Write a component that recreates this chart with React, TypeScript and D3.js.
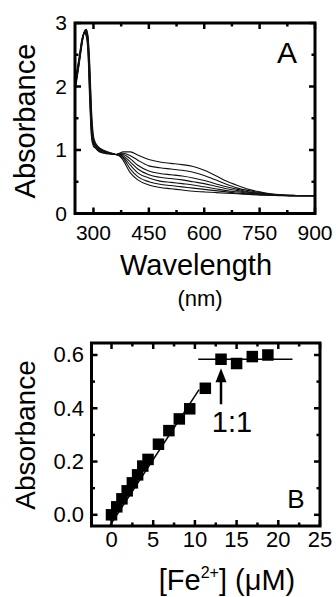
import React from "react";
import * as d3 from "d3";

// ---- panel A: UV-vis spectra ----
const wavelengths = [250, 260, 270, 275, 280, 285, 290, 295, 300, 305, 310, 320, 340, 360, 370,
  380, 400, 420, 450, 480, 510, 540, 570, 600, 630, 660, 690, 720, 750, 780, 810, 840, 870, 900];

const spectra = [
  [1.92, 2.30, 2.70, 2.85, 2.90, 2.80, 2.35, 1.60, 1.22, 1.12, 1.07, 1.02, 0.97, 0.93, 0.91,
    0.84, 0.64, 0.53, 0.45, 0.41, 0.39, 0.37, 0.35, 0.34, 0.33, 0.32, 0.31, 0.30, 0.29, 0.285, 0.28, 0.28, 0.28, 0.28],
  [1.95, 2.32, 2.72, 2.86, 2.90, 2.78, 2.25, 1.50, 1.18, 1.10, 1.06, 1.01, 0.96, 0.93, 0.91,
    0.87, 0.70, 0.58, 0.50, 0.46, 0.44, 0.42, 0.40, 0.38, 0.36, 0.34, 0.32, 0.31, 0.30, 0.29, 0.285, 0.28, 0.28, 0.28],
  [1.98, 2.34, 2.73, 2.85, 2.88, 2.74, 2.15, 1.42, 1.15, 1.08, 1.05, 1.00, 0.96, 0.93, 0.92,
    0.89, 0.76, 0.64, 0.56, 0.51, 0.49, 0.47, 0.45, 0.42, 0.39, 0.36, 0.34, 0.32, 0.30, 0.29, 0.285, 0.28, 0.28, 0.28],
  [2.00, 2.35, 2.74, 2.86, 2.87, 2.70, 2.05, 1.35, 1.12, 1.07, 1.03, 0.99, 0.95, 0.93, 0.92,
    0.91, 0.81, 0.70, 0.61, 0.57, 0.55, 0.53, 0.50, 0.47, 0.43, 0.39, 0.36, 0.33, 0.31, 0.295, 0.285, 0.28, 0.28, 0.28],
  [2.02, 2.37, 2.75, 2.85, 2.85, 2.65, 1.95, 1.28, 1.10, 1.05, 1.02, 0.98, 0.95, 0.93, 0.93,
    0.93, 0.86, 0.76, 0.67, 0.63, 0.61, 0.59, 0.56, 0.52, 0.47, 0.42, 0.38, 0.34, 0.32, 0.30, 0.29, 0.28, 0.28, 0.28],
  [2.05, 2.39, 2.76, 2.84, 2.83, 2.60, 1.85, 1.22, 1.08, 1.04, 1.01, 0.97, 0.94, 0.93, 0.94,
    0.95, 0.91, 0.84, 0.75, 0.72, 0.70, 0.68, 0.65, 0.60, 0.53, 0.46, 0.40, 0.36, 0.33, 0.305, 0.29, 0.285, 0.28, 0.28],
  [2.08, 2.42, 2.78, 2.84, 2.80, 2.55, 1.75, 1.18, 1.06, 1.03, 1.00, 0.96, 0.94, 0.93, 0.95,
    0.97, 0.97, 0.92, 0.85, 0.81, 0.79, 0.77, 0.74, 0.68, 0.60, 0.51, 0.44, 0.38, 0.34, 0.31, 0.295, 0.285, 0.28, 0.28],
];

const aXTicks = [300, 450, 600, 750, 900];
const aXMinor = [375, 525, 675, 825];
const aYTicks = [0, 1, 2, 3];
const aYMinor = [0.5, 1.5, 2.5];

// ---- panel B: titration ----
const feConc = [0, 0.63, 1.25, 1.88, 2.5, 3.13, 3.75, 4.38, 5.63, 6.88, 8.13, 9.38, 11.25, 13.13, 15, 16.88, 18.75];
const absB = [0.0, 0.03, 0.06, 0.09, 0.12, 0.15, 0.183, 0.208, 0.265, 0.316, 0.36, 0.398, 0.475, 0.584, 0.568, 0.594, 0.6];
const fitX = [-0.3, 10.5];
const fitY = [-0.045, 0.47];
const plateauX = [10.4, 21.7];
const plateauY = [0.584, 0.584];
const arrowX = 13.13;
const arrowY = [0.415, 0.55];

const bXTicks = [0, 5, 10, 15, 20, 25];
const bXMinor = [2.5, 7.5, 12.5, 17.5, 22.5];
const bYTicks = [0, 0.2, 0.4, 0.6];
const bYMinor = [0.1, 0.3, 0.5];

const FONT = "'Liberation Sans', Arial, sans-serif";

function Frame({ x, y, xTicks, xMinor, yTicks, yMinor }) {
  const [x0, x1] = x.range();
  const [y0, y1] = y.range(); // y0 bottom, y1 top
  const major = 6;
  const minor = 3.5;
  const tk = [];
  xTicks.concat(xMinor).forEach((t, i) => {
    const len = i < xTicks.length ? major : minor;
    const px = x(t);
    tk.push(<line key={"xb" + i} x1={px} x2={px} y1={y0} y2={y0 - len} />);
    tk.push(<line key={"xt" + i} x1={px} x2={px} y1={y1} y2={y1 + len} />);
  });
  yTicks.concat(yMinor).forEach((t, i) => {
    const len = i < yTicks.length ? major : minor;
    const py = y(t);
    tk.push(<line key={"yl" + i} x1={x0} x2={x0 + len} y1={py} y2={py} />);
    tk.push(<line key={"yr" + i} x1={x1} x2={x1 - len} y1={py} y2={py} />);
  });
  return (
    <g stroke="#000" fill="none">
      <g strokeWidth={2.5}>{tk}</g>
      <rect x={x0} y={y1} width={x1 - x0} height={y0 - y1} strokeWidth={3} />
    </g>
  );
}

export default function App() {
  // panel A scales
  const xA = d3.scaleLinear().domain([250, 900]).range([75, 315]);
  const yA = d3.scaleLinear().domain([0, 3]).range([213.5, 23]);
  const lineA = d3
    .line<number>()
    .x((_, i) => xA(wavelengths[i]))
    .y((d) => yA(d))
    .curve(d3.curveMonotoneX);

  // panel B scales
  const xB = d3.scaleLinear().domain([-2.4, 25]).range([91.5, 320]);
  const yB = d3.scaleLinear().domain([-0.042, 0.645]).range([526, 343]);
  const seg = d3
    .line<[number, number]>()
    .x((d) => xB(d[0]))
    .y((d) => yB(d[1]));

  const sq = 11.5;
  const ax = xB(arrowX);
  const tipY = yB(arrowY[1]);
  const headLen = 14;
  const headW = 11;

  return (
    <svg
      width={336}
      height={597}
      style={{ position: "absolute", left: 0, top: 0, background: "#fff" }}
      fontFamily={FONT}
    >
      {/* Panel A */}
      <g>
        {spectra.map((s, i) => (
          <path key={i} d={lineA(s) || ""} fill="none" stroke="#111" strokeWidth={1.1} />
        ))}
        <Frame x={xA} y={yA} xTicks={aXTicks} xMinor={aXMinor} yTicks={aYTicks} yMinor={aYMinor} />
        {aXTicks.map((t) => (
          <text key={t} x={xA(t)} y={240} textAnchor="middle" fontSize={21}>
            {t}
          </text>
        ))}
        {aYTicks.map((t) => (
          <text key={t} x={67} y={yA(t) + 7} textAnchor="end" fontSize={21}>
            {t}
          </text>
        ))}
        <text transform="translate(35,121) rotate(-90)" textAnchor="middle" fontSize={29}>
          Absorbance
        </text>
        <text x={196} y={275} textAnchor="middle" fontSize={29}>
          Wavelength
        </text>
        <text x={200} y={306} textAnchor="middle" fontSize={22}>
          (nm)
        </text>
        <text x={287} y={63} textAnchor="middle" fontSize={30}>
          A
        </text>
      </g>

      {/* Panel B */}
      <g>
        <path d={seg([[fitX[0], fitY[0]], [fitX[1], fitY[1]]]) || ""} stroke="#000" strokeWidth={1.5} fill="none" />
        <path d={seg([[plateauX[0], plateauY[0]], [plateauX[1], plateauY[1]]]) || ""} stroke="#000" strokeWidth={1.5} fill="none" />
        {feConc.map((c, i) => (
          <rect key={i} x={xB(c) - sq / 2} y={yB(absB[i]) - sq / 2} width={sq} height={sq} fill="#000" />
        ))}
        <line x1={ax} x2={ax} y1={yB(arrowY[0])} y2={tipY + headLen - 1} stroke="#000" strokeWidth={2.5} />
        <polygon
          points={`${ax},${tipY} ${ax - headW / 2},${tipY + headLen} ${ax + headW / 2},${tipY + headLen}`}
          fill="#000"
        />
        <Frame x={xB} y={yB} xTicks={bXTicks} xMinor={bXMinor} yTicks={bYTicks} yMinor={bYMinor} />
        {bXTicks.map((t) => (
          <text key={t} x={xB(t)} y={547} textAnchor="middle" fontSize={22}>
            {t}
          </text>
        ))}
        {bYTicks.map((t) => (
          <text key={t} x={84} y={yB(t) + 7.5} textAnchor="end" fontSize={22}>
            {t.toFixed(1)}
          </text>
        ))}
        <text transform="translate(35,435) rotate(-90)" textAnchor="middle" fontSize={28}>
          Absorbance
        </text>
        <text x={232} y={432} textAnchor="middle" fontSize={29}>
          1:1
        </text>
        <text x={296} y={508} textAnchor="middle" fontSize={26}>
          B
        </text>
        <text x={227} y={590} textAnchor="middle" fontSize={29}>
          [Fe<tspan dy={-12} fontSize={16}>2+</tspan>
          <tspan dy={12}>] (μM)</tspan>
        </text>
      </g>
    </svg>
  );
}
